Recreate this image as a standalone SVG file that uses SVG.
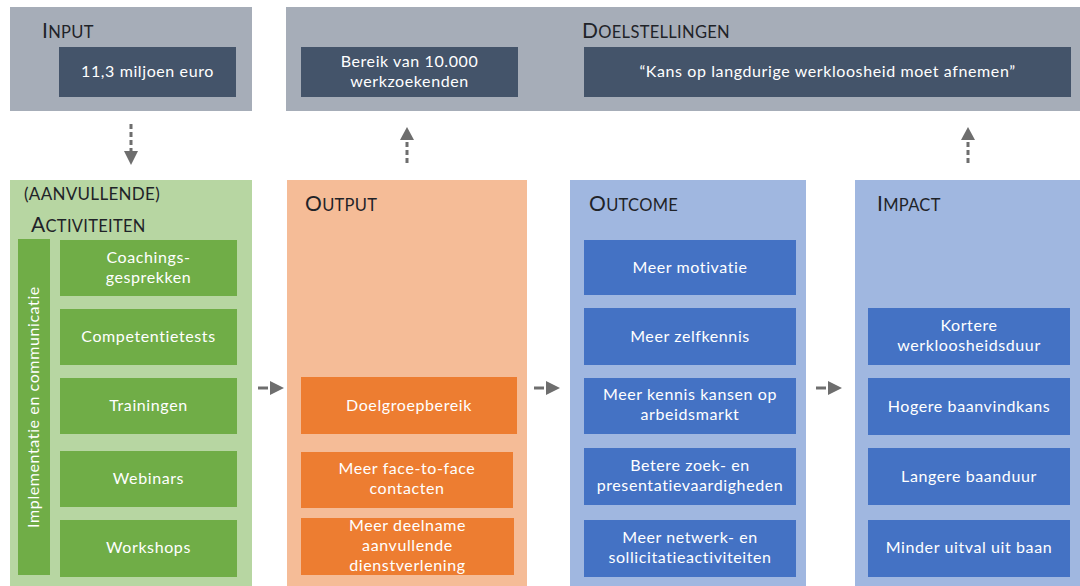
<svg xmlns="http://www.w3.org/2000/svg" width="1080" height="586" viewBox="0 0 1080 586">
<defs>
<style>
.bg{fill:#ffffff}
.gray{fill:#a6adb8}
.dark{fill:#44546a}
.gpanel{fill:#b7d6a2}
.gbox{fill:#70ad47}
.opanel{fill:#f5bc97}
.obox{fill:#ed7d31}
.bpanel{fill:#a0b7e0}
.bbox{fill:#4472c4}
text{font-family:Lato,"Noto Sans","Liberation Sans",sans-serif}
.t{fill:#ffffff;font-size:16px;letter-spacing:0.6px;text-anchor:middle}
.h{fill:#1f2328;font-size:21px;letter-spacing:0.3px}
.hs{font-size:16.5px}
.conn{stroke:#6e6e6e;stroke-width:3;stroke-dasharray:5 3;fill:none}
.head{fill:#6e6e6e}
</style>
</defs>
<rect class="bg" x="0" y="0" width="1080" height="586"/>

<g id="input">
<rect class="gray" x="10" y="7" width="242" height="104"/>
<text class="h" x="42" y="38">I<tspan class="hs">NPUT</tspan></text>
<rect class="dark" x="59" y="47" width="177" height="50"/>
<text class="t" x="147.5" y="77">11,3 miljoen euro</text>
</g>

<g id="doelstellingen">
<rect class="gray" x="286" y="7" width="794" height="104"/>
<text class="h" x="582" y="38">D<tspan class="hs">OELSTELLINGEN</tspan></text>
<rect class="dark" x="301" y="47" width="217" height="50"/>
<text class="t" x="409.5" y="67">Bereik van 10.000</text>
<text class="t" x="409.5" y="87">werkzoekenden</text>
<rect class="dark" x="584" y="47" width="487" height="50"/>
<text class="t" x="827.5" y="77">“Kans op langdurige werkloosheid moet afnemen”</text>
</g>

<g id="activiteiten">
<rect class="gpanel" x="10" y="180" width="242" height="406"/>
<text class="h" x="24" y="200" style="font-size:17px">(AANVULLENDE)</text>
<text class="h" x="31" y="232">A<tspan class="hs">CTIVITEITEN</tspan></text>
<rect class="gbox" x="18" y="239" width="32" height="336"/>
<text class="t" transform="translate(39 407) rotate(-90)" x="0" y="0">Implementatie en communicatie</text>
<rect class="gbox" x="60" y="240" width="177" height="56"/>
<text class="t" x="148.5" y="263">Coachings-</text>
<text class="t" x="148.5" y="283">gesprekken</text>
<rect class="gbox" x="60" y="309" width="177" height="56"/>
<text class="t" x="148.5" y="342">Competentietests</text>
<rect class="gbox" x="60" y="378" width="177" height="56"/>
<text class="t" x="148.5" y="411">Trainingen</text>
<rect class="gbox" x="60" y="451" width="177" height="56"/>
<text class="t" x="148.5" y="484">Webinars</text>
<rect class="gbox" x="60" y="520" width="177" height="57"/>
<text class="t" x="148.5" y="553">Workshops</text>
</g>

<g id="output">
<rect class="opanel" x="287" y="180" width="240" height="406"/>
<text class="h" x="305" y="211">O<tspan class="hs">UTPUT</tspan></text>
<rect class="obox" x="301" y="377" width="216" height="57"/>
<text class="t" x="409" y="411">Doelgroepbereik</text>
<rect class="obox" x="301" y="452" width="212" height="56"/>
<text class="t" x="407" y="474">Meer face-to-face</text>
<text class="t" x="407" y="494">contacten</text>
<rect class="obox" x="301" y="518" width="213" height="57"/>
<text class="t" x="407.5" y="531">Meer deelname</text>
<text class="t" x="407.5" y="551">aanvullende</text>
<text class="t" x="407.5" y="571">dienstverlening</text>
</g>

<g id="outcome">
<rect class="bpanel" x="570" y="180" width="236" height="406"/>
<text class="h" x="589" y="211">O<tspan class="hs">UTCOME</tspan></text>
<rect class="bbox" x="584" y="240" width="212" height="55"/>
<text class="t" x="690" y="273">Meer motivatie</text>
<rect class="bbox" x="584" y="308" width="212" height="57"/>
<text class="t" x="690" y="342">Meer zelfkennis</text>
<rect class="bbox" x="584" y="378" width="212" height="56"/>
<text class="t" x="690" y="400">Meer kennis kansen op</text>
<text class="t" x="690" y="420">arbeidsmarkt</text>
<rect class="bbox" x="584" y="448" width="212" height="57"/>
<text class="t" x="690" y="471">Betere zoek- en</text>
<text class="t" x="690" y="491">presentatievaardigheden</text>
<rect class="bbox" x="584" y="520" width="212" height="57"/>
<text class="t" x="690" y="543">Meer netwerk- en</text>
<text class="t" x="690" y="563">sollicitatieactiviteiten</text>
</g>

<g id="impact">
<rect class="bpanel" x="855" y="180" width="225" height="406"/>
<text class="h" x="877" y="211">I<tspan class="hs">MPACT</tspan></text>
<rect class="bbox" x="868" y="308" width="202" height="57"/>
<text class="t" x="969" y="331">Kortere</text>
<text class="t" x="969" y="351">werkloosheidsduur</text>
<rect class="bbox" x="868" y="378" width="202" height="57"/>
<text class="t" x="969" y="412">Hogere baanvindkans</text>
<rect class="bbox" x="868" y="448" width="202" height="57"/>
<text class="t" x="969" y="482">Langere baanduur</text>
<rect class="bbox" x="868" y="520" width="202" height="57"/>
<text class="t" x="969" y="553">Minder uitval uit baan</text>
</g>

<g id="connectors">
<line class="conn" x1="131" y1="124" x2="131" y2="151"/>
<polygon class="head" points="124,151 138,151 131,165"/>
<line class="conn" x1="407" y1="163" x2="407" y2="140"/>
<polygon class="head" points="400,140 414,140 407,127"/>
<line class="conn" x1="968" y1="163" x2="968" y2="140"/>
<polygon class="head" points="961,140 975,140 968,127"/>
<line class="conn" x1="258" y1="388" x2="268" y2="388" style="stroke-dasharray:none"/>
<polygon class="head" points="270,381 270,395 284,388"/>
<line class="conn" x1="534" y1="388" x2="544" y2="388" style="stroke-dasharray:none"/>
<polygon class="head" points="546,381 546,395 560,388"/>
<line class="conn" x1="816" y1="388" x2="826" y2="388" style="stroke-dasharray:none"/>
<polygon class="head" points="828,381 828,395 842,388"/>
</g>
</svg>
